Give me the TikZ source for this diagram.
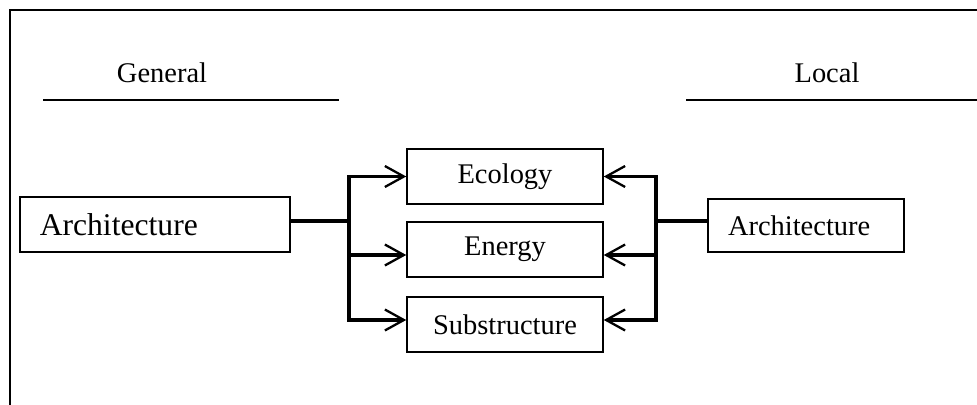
\documentclass[tikz,border=0pt]{standalone}
\usepackage{fontspec}
\setmainfont{Liberation Serif}
\usepackage{tikz}
\usetikzlibrary{arrows.meta,positioning,calc}

\begin{document}
\begin{tikzpicture}[
    x=0.02cm, y=-0.02cm,
    topic/.style={rectangle, draw=black, line width=0.9pt, minimum width=3.92cm,
                 minimum height=1.1cm, align=center, font=\fontsize{16.2}{19}\selectfont},
    source/.style={rectangle, draw=black, line width=0.9pt, inner xsep=0.4cm,
                 align=left, font=\fontsize{16.2}{19}\selectfont},
    heading/.style={font=\fontsize{16.2}{19}\selectfont},
    rule/.style={line width=1.4pt},
    link/.style={line width=2pt},
    arr/.style={-{Straight Barb[length=0.38cm, width=0.42cm, line width=1.3pt]}, line width=2pt}
]
    \useasboundingbox (0,0) rectangle (977,405);
    \draw[rule] (977,10) -- (10,10) -- (10,405);

    % headings with their rules
    \node[heading] (genlabel) at (162,73) {General};
    \node[heading] (loclabel) at (827,73) {Local};
    \draw[rule] (43,100) -- (339,100);
    \draw[rule] (686,100) -- (977,100);

    % boxes
    \node[source, text width=4.61cm, minimum height=1.1cm,
          font=\fontsize{18}{21}\selectfont] (archgen) at (155,224.5) {Architecture};
    \node[source, text width=3.12cm, minimum height=1.06cm] (archloc) at (806,225.5) {Architecture};
    \node[topic] (eco) at (505,176.5) {Ecology};
    \node[topic] (ene) at (505,249.5) {Energy};
    \node[topic] (sub) at (505,324.5) {Substructure};

    % branch points
    \coordinate (jl) at (349,221);
    \coordinate (jr) at (656,221);
    \foreach \b/\s in {eco/0, ene/5.5, sub/-4.5} {
        \coordinate (\b-in) at ($(\b.west)+(0,\s)$);
        \coordinate (\b-out) at ($(\b.east)+(0,\s)$);
    }

    \draw[link] (archgen.east |- jl) -- (jl);
    \draw[arr] (jl) |- (eco-in);
    \draw[arr] (jl) |- (sub-in);
    \draw[arr] (jl |- ene-in) -- (ene-in);

    \draw[link] (archloc.west |- jr) -- (jr);
    \draw[arr] (jr) |- (eco-out);
    \draw[arr] (jr) |- (sub-out);
    \draw[arr] (jr |- ene-out) -- (ene-out);
\end{tikzpicture}
\end{document}
